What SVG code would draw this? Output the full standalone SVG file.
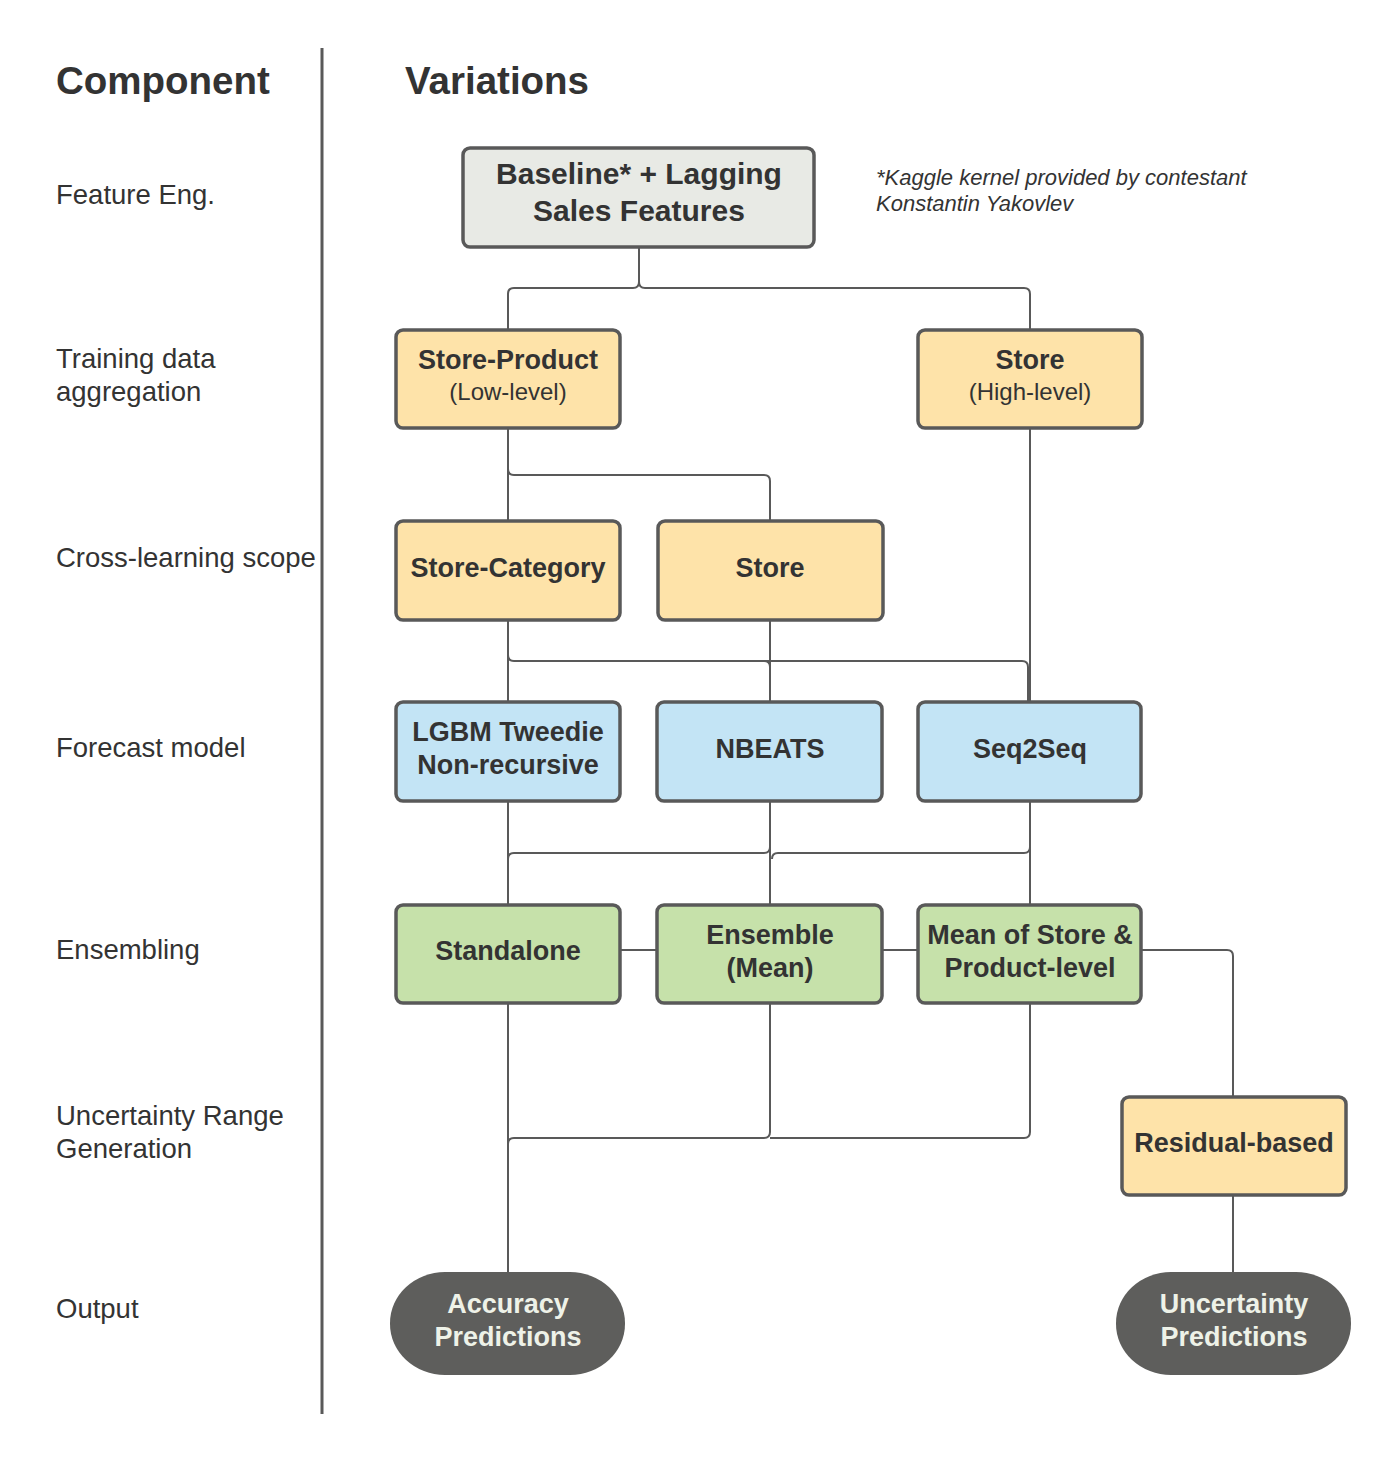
<svg xmlns="http://www.w3.org/2000/svg" width="1400" height="1464" viewBox="0 0 1400 1464">
<style>
.lbl{font-family:"Liberation Sans",Arial,sans-serif;font-size:27.5px;fill:#333333}
.hdr{font-family:"Liberation Sans",Arial,sans-serif;font-size:38.5px;font-weight:bold;fill:#333333}
.note{font-family:"Liberation Sans",Arial,sans-serif;font-size:22px;font-style:italic;fill:#333333}
.box{stroke:#595959;stroke-width:3.5}
.t{font-family:"Liberation Sans",Arial,sans-serif;font-size:27px;font-weight:bold;fill:#333333;text-anchor:middle}
.s{font-family:"Liberation Sans",Arial,sans-serif;font-size:24px;fill:#333333;text-anchor:middle}
.w{font-family:"Liberation Sans",Arial,sans-serif;font-size:27px;font-weight:bold;fill:#eef2e8;text-anchor:middle}
.gray{fill:#e8eae5}
.org{fill:#fee3a9}
.blu{fill:#c3e4f5}
.grn{fill:#c6e1aa}
.drk{fill:#5e5e5c}
.c{fill:none;stroke:#595959;stroke-width:2}
</style>
<rect width="1400" height="1464" fill="#ffffff"/>
<line x1="322" y1="48" x2="322" y2="1414" stroke="#595959" stroke-width="3"/>
<text class="hdr" x="56" y="94">Component</text>
<text class="hdr" x="405" y="94">Variations</text>
<text class="lbl" x="56" y="204">Feature Eng.</text>
<text class="lbl" x="56" y="368">Training data</text>
<text class="lbl" x="56" y="401">aggregation</text>
<text class="lbl" x="56" y="567">Cross-learning scope</text>
<text class="lbl" x="56" y="757">Forecast model</text>
<text class="lbl" x="56" y="959">Ensembling</text>
<text class="lbl" x="56" y="1125">Uncertainty Range</text>
<text class="lbl" x="56" y="1158">Generation</text>
<text class="lbl" x="56" y="1318">Output</text>
<text class="note" x="876" y="185">*Kaggle kernel provided by contestant</text>
<text class="note" x="876" y="211">Konstantin Yakovlev</text>
<g id="connectors">
<path class="c" d="M639,247 V282 Q639,288 633,288 H514 Q508,288 508,294 V330"/>
<path class="c" d="M639,282 Q639,288 645,288 H1024 Q1030,288 1030,294 V330"/>
<path class="c" d="M508,428 V521"/>
<path class="c" d="M508,469 Q508,475 514,475 H764 Q770,475 770,481 V521"/>
<path class="c" d="M1030,428 V702"/>
<path class="c" d="M508,620 V702"/>
<path class="c" d="M508,655 Q508,661 514,661 H1022 Q1028,661 1028,667 V702"/>
<path class="c" d="M764,661 Q770,661 770,667"/>
<path class="c" d="M770,620 V702"/>
<path class="c" d="M508,801 V905"/>
<path class="c" d="M770,801 V905"/>
<path class="c" d="M770,847 Q770,853 764,853 H514 Q508,853 508,859"/>
<path class="c" d="M1030,801 V905"/>
<path class="c" d="M1030,847 Q1030,853 1024,853 H778 Q772,853 772,859"/>
<path class="c" d="M620,950 H657"/>
<path class="c" d="M882,950 H918"/>
<path class="c" d="M1141,950 H1227 Q1233,950 1233,956 V1097"/>
<path class="c" d="M508,1003 V1272"/>
<path class="c" d="M770,1003 V1132 Q770,1138 764,1138 H514 Q508,1138 508,1144"/>
<path class="c" d="M1030,1003 V1132 Q1030,1138 1024,1138 H770"/>
<path class="c" d="M1233,1195 V1272"/>
</g>
<g id="baseline">
<rect class="box gray" x="463" y="148" width="351" height="99" rx="7"/>
<text class="t" x="639" y="184" style="font-size:30px">Baseline* + Lagging</text>
<text class="t" x="639" y="221" style="font-size:30px">Sales Features</text>
</g>
<g id="store-product">
<rect class="box org" x="396" y="330" width="224" height="98" rx="7"/>
<text class="t" x="508" y="369">Store-Product</text>
<text class="s" x="508" y="400">(Low-level)</text>
</g>
<g id="store-high">
<rect class="box org" x="918" y="330" width="224" height="98" rx="7"/>
<text class="t" x="1030" y="369">Store</text>
<text class="s" x="1030" y="400">(High-level)</text>
</g>
<g id="store-category">
<rect class="box org" x="396" y="521" width="224" height="99" rx="7"/>
<text class="t" x="508" y="577">Store-Category</text>
</g>
<g id="store-scope">
<rect class="box org" x="658" y="521" width="225" height="99" rx="7"/>
<text class="t" x="770" y="577">Store</text>
</g>
<g id="lgbm">
<rect class="box blu" x="396" y="702" width="224" height="99" rx="7"/>
<text class="t" x="508" y="741">LGBM Tweedie</text>
<text class="t" x="508" y="774">Non-recursive</text>
</g>
<g id="nbeats">
<rect class="box blu" x="657" y="702" width="225" height="99" rx="7"/>
<text class="t" x="770" y="758">NBEATS</text>
</g>
<g id="seq2seq">
<rect class="box blu" x="918" y="702" width="223" height="99" rx="7"/>
<text class="t" x="1030" y="758">Seq2Seq</text>
</g>
<g id="standalone">
<rect class="box grn" x="396" y="905" width="224" height="98" rx="7"/>
<text class="t" x="508" y="960">Standalone</text>
</g>
<g id="ensemble-mean">
<rect class="box grn" x="657" y="905" width="225" height="98" rx="7"/>
<text class="t" x="770" y="944">Ensemble</text>
<text class="t" x="770" y="977">(Mean)</text>
</g>
<g id="mean-store-product">
<rect class="box grn" x="918" y="905" width="223" height="98" rx="7"/>
<text class="t" x="1030" y="944">Mean of Store &amp;</text>
<text class="t" x="1030" y="977">Product-level</text>
</g>
<g id="residual">
<rect class="box org" x="1122" y="1097" width="224" height="98" rx="7"/>
<text class="t" x="1234" y="1152">Residual-based</text>
</g>
<g id="accuracy">
<rect class="drk" x="390" y="1272" width="235" height="103" rx="55" ry="51"/>
<text class="w" x="508" y="1313">Accuracy</text>
<text class="w" x="508" y="1346">Predictions</text>
</g>
<g id="uncertainty">
<rect class="drk" x="1116" y="1272" width="235" height="103" rx="55" ry="51"/>
<text class="w" x="1234" y="1313">Uncertainty</text>
<text class="w" x="1234" y="1346">Predictions</text>
</g>
</svg>
